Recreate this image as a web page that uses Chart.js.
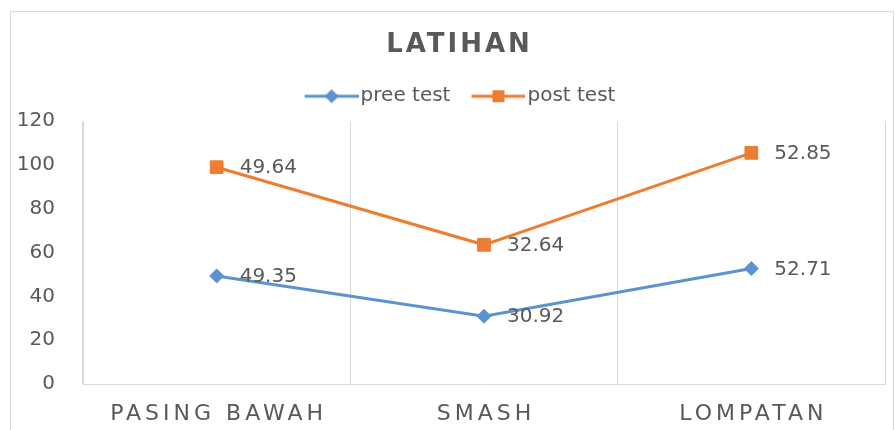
<!DOCTYPE html>
<html>
<head>
<meta charset="utf-8">
<title>LATIHAN</title>
<script src="https://cdn.jsdelivr.net/npm/chart.js@4/dist/chart.umd.min.js"></script>
<style>
  body { margin: 0; background: #fff; }
  #wrap { position: relative; width: 895px; height: 430px; overflow: hidden; }
  #frame { position: absolute; left: 10px; top: 11px; width: 882px; height: 440px; border: 1px solid #d9d9d9; }
  canvas { position: absolute; left: 0; top: 0; }
</style>
</head>
<body>
<div id="wrap">
  <div id="frame"></div>
  <canvas id="lineChart" width="895" height="430"></canvas>
</div>
<script>
const categories = ['PASING BAWAH', 'SMASH', 'LOMPATAN'];
const preTest = [49.35, 30.92, 52.71];
const postTest = [49.64, 32.64, 52.85];
const yMin = 0;
const yMax = 120;
const yStep = 20;

const blue = '#5b93d0';
const orange = '#ed7d31';
const grey = '#595959';
const gridGrey = '#d9d9d9';

Chart.defaults.font.family = '"DejaVu Sans", sans-serif';
Chart.defaults.color = grey;

// legend symbol: line with marker in the middle (like Excel)
function legendSymbol(color, shape) {
    const c = document.createElement('canvas');
    c.width = 77;
    c.height = 16;
    const ctx = c.getContext('2d');
    ctx.strokeStyle = color;
    ctx.fillStyle = color;
    ctx.lineWidth = 3;
    ctx.beginPath();
    ctx.moveTo(23, 8);
    ctx.lineTo(77, 8);
    ctx.stroke();
    const cx = 50;
    if (shape === 'diamond') {
        ctx.beginPath();
        ctx.moveTo(cx, 1);
        ctx.lineTo(cx + 7, 8);
        ctx.lineTo(cx, 15);
        ctx.lineTo(cx - 7, 8);
        ctx.closePath();
        ctx.fill();
    } else {
        ctx.fillRect(cx - 6, 2, 12, 12);
    }
    return c;
}
const symbols = [legendSymbol(blue, 'diamond'), legendSymbol(orange, 'square')];

// value labels to the right of every point
const valueLabels = {
    id: 'valueLabels',
    afterDatasetsDraw(chart) {
        const ctx = chart.ctx;
        ctx.save();
        ctx.font = '20px "DejaVu Sans"';
        ctx.fillStyle = grey;
        ctx.textAlign = 'left';
        ctx.textBaseline = 'middle';
        chart.data.datasets.forEach((ds, i) => {
            chart.getDatasetMeta(i).data.forEach((pt, j) => {
                ctx.fillText(ds.data[j].toFixed(2), pt.x + 23, pt.y + 1);
            });
        });
        ctx.restore();
    }
};

// letter spacing for title and category labels, extra room under legend
const spacing = {
    id: 'spacing',
    beforeLayout(chart) {
        const lg = chart.legend;
        if (lg && !lg._patched) {
            const fit = lg.fit;
            lg.fit = function () { fit.call(this); this.height += 5; };
            lg._patched = true;
        }
    },
    afterLayout(chart) {
        const wrap = (obj, fn, sp, dx) => {
            if (!obj || obj['_sp_' + fn]) return;
            const orig = obj[fn];
            obj[fn] = function (...args) {
                const c = chart.ctx;
                c.save();
                c.translate(dx, 0);
                c.letterSpacing = sp;
                orig.apply(this, args);
                c.restore();
            };
            obj['_sp_' + fn] = true;
        };
        wrap(chart.titleBlock, 'draw', '3px', 7);
        wrap(chart.scales.x, 'drawLabels', '4px', 2);
    }
};

new Chart(document.getElementById('lineChart'), {
    type: 'line',
    data: {
        labels: categories,
        datasets: [{
            label: 'pree test',
            data: preTest,
            borderColor: blue,
            backgroundColor: blue,
            borderWidth: 3,
            pointStyle: 'rectRot',
            pointRadius: 7,
            pointBorderWidth: 1,
            tension: 0
        }, {
            label: 'post test',
            data: postTest,
            borderColor: orange,
            backgroundColor: orange,
            borderWidth: 3,
            pointStyle: 'rect',
            pointRadius: 9,
            pointBorderWidth: 1,
            tension: 0
        }]
    },
    options: {
        responsive: false,
        animation: false,
        layout: {
            padding: { left: 17, right: 7, top: 0, bottom: 0 }
        },
        plugins: {
            title: {
                display: true,
                text: 'LATIHAN',
                color: grey,
                font: { size: 26, weight: 'bold' },
                padding: { top: 30, bottom: 19 }
            },
            legend: {
                position: 'top',
                labels: {
                    usePointStyle: true,
                    pointStyleWidth: 61,
                    padding: 6,
                    color: grey,
                    font: { size: 20 },
                    generateLabels(chart) {
                        const items = Chart.defaults.plugins.legend.labels.generateLabels(chart);
                        items.forEach((it, i) => { it.pointStyle = symbols[i]; });
                        return items;
                    }
                }
            },
            tooltip: { enabled: false }
        },
        scales: {
            x: {
                offset: true,
                grid: { display: true, offset: true, color: gridGrey, drawTicks: false },
                border: { display: true, color: gridGrey },
                ticks: {
                    color: grey,
                    font: { size: 22 },
                    padding: 17,
                    maxRotation: 0,
                    autoSkip: false
                },
                afterFit(scale) { scale.height = 46; }
            },
            y: {
                stacked: true,
                min: yMin,
                max: yMax,
                grid: { display: false, drawTicks: false },
                border: { display: true, color: gridGrey },
                ticks: {
                    stepSize: yStep,
                    color: grey,
                    font: { size: 20 },
                    padding: 28
                },
                afterFit(scale) { scale.width = 66; }
            }
        }
    },
    plugins: [valueLabels, spacing]
});
</script>
</body>
</html>
